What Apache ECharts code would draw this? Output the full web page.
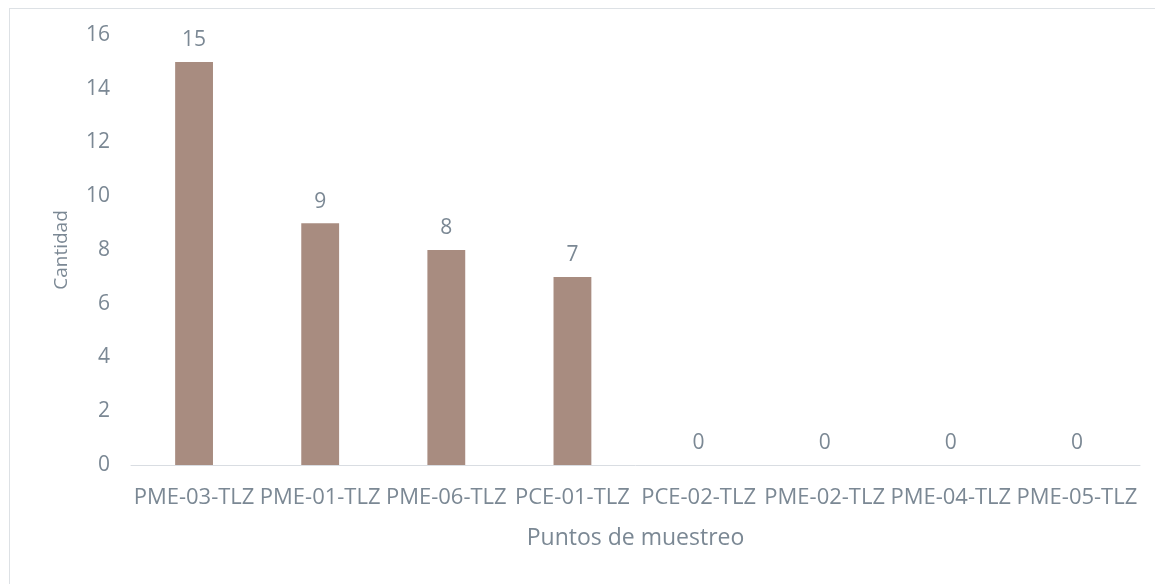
<!DOCTYPE html>
<html>
<head>
<meta charset="utf-8">
<script src="https://cdn.jsdelivr.net/npm/echarts@6/dist/echarts.min.js"></script>
<style>
html,body{margin:0;padding:0;background:#fff;overflow:hidden;}
#frame{position:absolute;left:9px;top:8px;width:1160px;height:600px;border:1px solid #dde1e5;box-sizing:border-box;}
#chart{position:absolute;left:0;top:0;width:1155px;height:584px;}
</style>
</head>
<body>
<div id="frame"></div>
<div id="chart"></div>
<script>
const categories = ['PME-03-TLZ','PME-01-TLZ','PME-06-TLZ','PCE-01-TLZ','PCE-02-TLZ','PME-02-TLZ','PME-04-TLZ','PME-05-TLZ'];
const values = [15, 9, 8, 7, 0, 0, 0, 0];
const yTicks = [0, 2, 4, 6, 8, 10, 12, 14, 16];

const textColor = '#7b8894';
const font = 'Open Sans';
const chart = echarts.init(document.getElementById('chart'), null, {renderer: 'canvas'});
chart.setOption({
  animation: false,
  grid: {left: 131, right: 15, top: 35, bottom: 119, containLabel: false},
  xAxis: {
    type: 'category',
    data: categories,
    name: 'Puntos de muestreo',
    nameLocation: 'middle',
    nameGap: 62,
    nameTextStyle: {color: textColor, fontSize: 23, fontFamily: font},
    axisLine: {lineStyle: {color: '#d9dde2', width: 1}},
    axisTick: {show: false},
    axisLabel: {color: textColor, fontSize: 22, fontFamily: font, margin: 22, interval: 0}
  },
  yAxis: {
    type: 'value',
    min: yTicks[0],
    max: yTicks[yTicks.length - 1],
    interval: 2,
    name: 'Cantidad',
    nameLocation: 'middle',
    nameGap: 60,
    nameRotate: 90,
    nameTextStyle: {color: textColor, fontSize: 19, fontFamily: font},
    axisLine: {show: false},
    axisTick: {show: false},
    splitLine: {show: false},
    axisLabel: {color: textColor, fontSize: 21, fontFamily: font, margin: 21}
  },
  series: [{
    type: 'bar',
    data: values,
    barWidth: '30%',
    itemStyle: {color: '#a88c80'},
    label: {show: true, position: 'top', distance: 11, color: textColor, fontSize: 21, fontFamily: font}
  }]
});
</script>
</body>
</html>
